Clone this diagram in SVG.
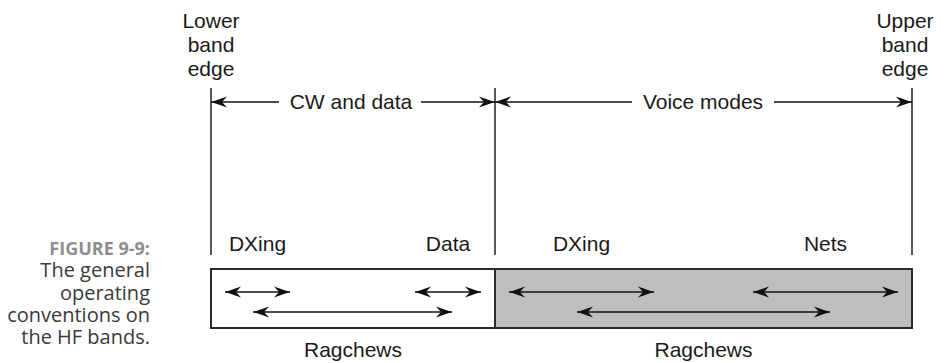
<svg xmlns="http://www.w3.org/2000/svg" width="944" height="363" viewBox="0 0 944 363">
  <style>
    .lbl { font-family: "Liberation Sans", Arial, sans-serif; font-size: 21px; fill: #1a1a1a; text-anchor: middle; }
    .cap { font-family: "Open Sans", "Liberation Sans", sans-serif; font-size: 20px; fill: #3a3a3a; text-anchor: end; }
    .fig { font-family: "Open Sans", "Liberation Sans", sans-serif; font-size: 18px; font-weight: bold; fill: #8e8e8e; text-anchor: end; }
    .edge { stroke: #222; stroke-width: 1.5; fill: none; }
    .dim { stroke: #111; stroke-width: 1.3; fill: none; }
    .both { marker-start: url(#head); marker-end: url(#head); }
    .to-start { marker-start: url(#head); }
    .to-end { marker-end: url(#head); }
    .band { stroke: #2a2a2a; stroke-width: 2; }
  </style>
  <defs>
    <marker id="head" viewBox="-17 -7 18 14" refX="0" refY="0" markerWidth="18" markerHeight="14" markerUnits="userSpaceOnUse" orient="auto-start-reverse">
      <path d="M0,0 Q-7,-2.2 -16,-5.5 L-11,0 L-16,5.5 Q-7,2.2 0,0 Z" fill="#111"/>
    </marker>
  </defs>

  <!-- caption -->
  <g id="caption">
    <text class="fig" x="150" y="255">FIGURE 9-9:</text>
    <text class="cap" x="150" y="277">The general</text>
    <text class="cap" x="150" y="299.5">operating</text>
    <text class="cap" x="150" y="322">conventions on</text>
    <text class="cap" x="150" y="344">the HF bands.</text>
  </g>

  <!-- band edge labels -->
  <g id="lower-edge">
    <text class="lbl" x="211" y="28">Lower</text>
    <text class="lbl" x="211" y="52">band</text>
    <text class="lbl" x="211" y="76">edge</text>
  </g>
  <g id="upper-edge">
    <text class="lbl" x="905" y="28">Upper</text>
    <text class="lbl" x="905" y="52">band</text>
    <text class="lbl" x="905" y="76">edge</text>
  </g>

  <!-- segment boundaries -->
  <g id="boundaries">
    <line class="edge" x1="211" y1="88" x2="211" y2="255"/>
    <line class="edge" x1="495" y1="88" x2="495" y2="255"/>
    <line class="edge" x1="912" y1="88" x2="912" y2="255"/>
  </g>

  <!-- mode ranges -->
  <g id="cw-data">
    <text class="lbl" x="351" y="109">CW and data</text>
  </g>
  <g id="voice-modes">
    <text class="lbl" x="703" y="109">Voice modes</text>
  </g>

  <!-- band bar -->
  <g id="band-cw">
    <rect x="211" y="269" width="284" height="59" fill="#ffffff" class="band"/>
  </g>
  <g id="band-voice">
    <rect x="495" y="269" width="417" height="59" fill="#bdbec0" class="band"/>
  </g>

  <!-- activity labels -->
  <g id="dxing-cw"><text class="lbl" x="257.5" y="251">DXing</text></g>
  <g id="data"><text class="lbl" x="448" y="251">Data</text></g>
  <g id="dxing-voice"><text class="lbl" x="581.5" y="251">DXing</text></g>
  <g id="nets"><text class="lbl" x="825.5" y="251">Nets</text></g>
  <g id="ragchews-cw"><text class="lbl" x="353" y="357">Ragchews</text></g>
  <g id="ragchews-voice"><text class="lbl" x="703.5" y="357">Ragchews</text></g>

  <!-- connectors -->
  <g id="connectors">
    <path class="dim to-start" d="M211,102 H279"/>
    <path class="dim to-end" d="M421,102 H495"/>
    <path class="dim to-start" d="M495,102 H632"/>
    <path class="dim to-end" d="M774,102 H912"/>

    <path class="dim both" d="M225,292 H290"/>
    <path class="dim both" d="M415,292 H481"/>
    <path class="dim both" d="M509,292 H654"/>
    <path class="dim both" d="M753,292 H898"/>
    <path class="dim both" d="M253,312 H452"/>
    <path class="dim both" d="M577,312 H830"/>
  </g>
</svg>
